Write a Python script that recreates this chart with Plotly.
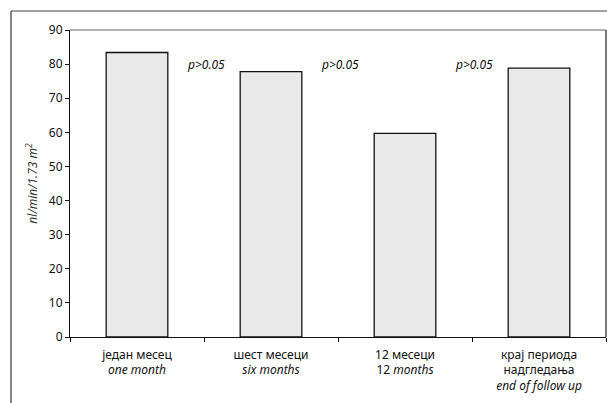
import plotly.graph_objects as go

# Values per follow-up period (nl/min/1.73 m²)
categories = [
    "један месец<br><i>one month</i>",
    "шест месеци<br><i>six months</i>",
    "12 месеци<br>12 <i>months</i>",
    "крај периода<br>надгледања<br><i>end of follow up</i>",
]
values = [83.4, 77.8, 59.7, 78.8]
p_labels = ["p>0.05", "p>0.05", "p>0.05"]
p_y = [80, 80, 80]
y_ticks = [0, 10, 20, 30, 40, 50, 60, 70, 80, 90]

FONT = "Noto Sans"
W, H = 607, 403
L, R, T, B = 70, 1, 30, 66
pw, ph = W - L - R, H - T - B

fig = go.Figure()
fig.add_trace(go.Bar(
    x=categories, y=values, width=0.46,
    marker=dict(color="#E8E9E8", line=dict(color="#111111", width=1.3)),
    hoverinfo="skip",
))

# p-value labels sit between neighbouring bars
for i, (txt, yv) in enumerate(zip(p_labels, p_y)):
    fig.add_annotation(
        x=i + 0.5, y=yv, xref="x", yref="y", text=f"<i>{txt}</i>",
        showarrow=False, font=dict(family=FONT, size=12, color="#111"),
        xshift=2,
    )

def px_x(px):
    return (px - L) / pw

def px_y(py):
    return (H - B - py) / ph

# plot-area top/right border and outer frame
fig.add_shape(type="line", xref="paper", yref="paper", x0=0, x1=1, y0=1, y1=1,
              line=dict(color="#666666", width=1.2))
fig.add_shape(type="line", xref="paper", yref="paper", x0=1, x1=1, y0=0, y1=1,
              line=dict(color="#222222", width=1.2))
fig.add_shape(type="line", xref="paper", yref="paper",
              x0=px_x(11), x1=px_x(620), y0=px_y(11), y1=px_y(11),
              line=dict(color="#444444", width=1.2))
fig.add_shape(type="line", xref="paper", yref="paper",
              x0=px_x(11), x1=px_x(11), y0=px_y(11), y1=px_y(420),
              line=dict(color="#333333", width=1.2))

fig.update_layout(
    width=W, height=H,
    margin=dict(l=L, r=R, t=T, b=B),
    paper_bgcolor="white", plot_bgcolor="white",
    showlegend=False,
    font=dict(family=FONT, size=12, color="#111"),
    bargap=0.54,
)
fig.update_xaxes(
    type="category", tickson="boundaries",
    showline=True, linecolor="#111", linewidth=1.2,
    ticks="outside", ticklen=4, tickcolor="#111",
    showgrid=False, zeroline=False,
    ticklabelstandoff=6,
    tickfont=dict(family=FONT, size=12, color="#111"),
    range=[-0.5, 3.5],
)
fig.update_yaxes(
    range=[0, 90], tickvals=y_ticks,
    showline=True, linecolor="#111", linewidth=1.2,
    ticks="outside", ticklen=4, tickcolor="#111",
    showgrid=False, zeroline=False,
    tickfont=dict(family=FONT, size=12, color="#111"),
    title=dict(text="<i>nl/min/1.73 m<sup>2</sup></i>", standoff=8,
               font=dict(family=FONT, size=12, color="#333")),
)

fig.write_html("out.html")
